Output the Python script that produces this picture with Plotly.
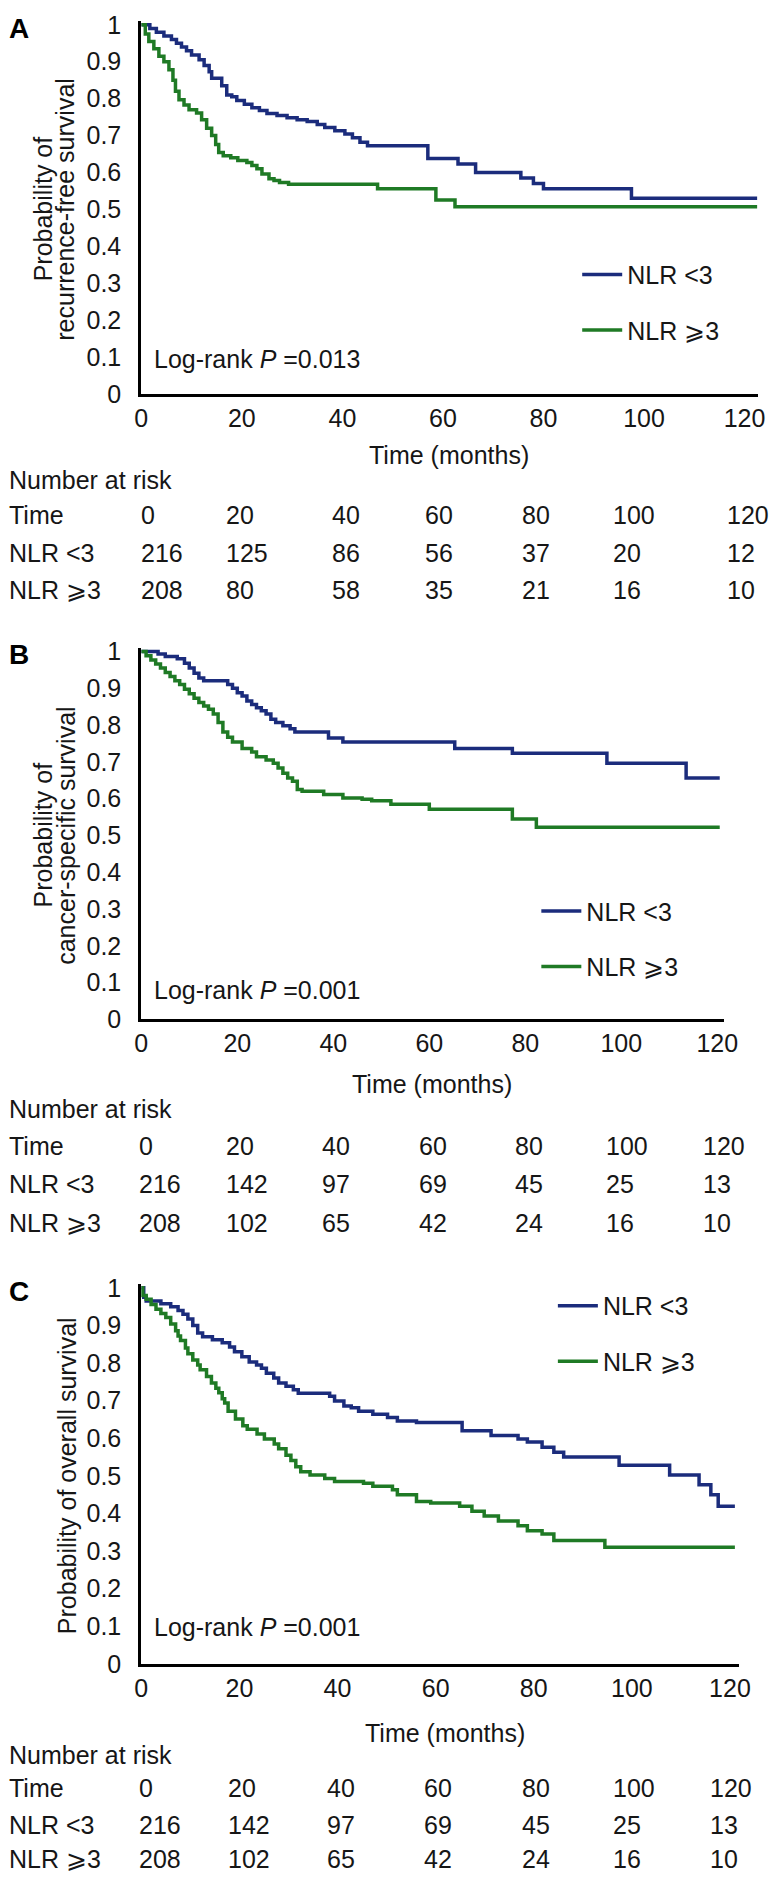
import plotly.graph_objects as go

W, H = 779, 1888
FONT = "Liberation Sans, Arial, sans-serif"
BLUE = "#1b2c7c"
GREEN = "#1f7a25"
TXT = "#161616"
FS = 25

# ---------------- data ----------------
time_ticks = [0, 20, 40, 60, 80, 100, 120]
y_ticks = [0, 0.1, 0.2, 0.3, 0.4, 0.5, 0.6, 0.7, 0.8, 0.9, 1]
y_tick_text = ["0", "0.1", "0.2", "0.3", "0.4", "0.5", "0.6", "0.7", "0.8", "0.9", "1"]
group_names = ["NLR <3", "NLR \u2a7e3"]

# Panel A: recurrence-free survival (step times, survival after step)
a_low_t = [0, 1.7, 3.0, 4.5, 6.0, 7.0, 8.0, 9.0, 10.0, 11.5, 12.5, 13.5, 14.0, 16.0, 17.0, 18.0,
           19.0, 20.5, 22.0, 23.5, 25.0, 27.0, 29.0, 31.0, 33.0, 35.0, 36.5, 38.5, 40.5, 42.0,
           43.5, 45.0, 57.0, 63.0, 66.5, 75.5, 78.0, 80.0, 97.5, 122.5]
a_low_s = [1.0, 0.99, 0.98, 0.97, 0.96, 0.95, 0.94, 0.93, 0.918, 0.905, 0.89, 0.873, 0.855, 0.835,
           0.81, 0.805, 0.795, 0.785, 0.775, 0.768, 0.76, 0.754, 0.748, 0.743, 0.738, 0.73, 0.722,
           0.713, 0.704, 0.694, 0.682, 0.672, 0.638, 0.623, 0.600, 0.585, 0.570, 0.556, 0.530, 0.530]
a_high_t = [0, 0.8, 1.5, 2.5, 3.5, 4.5, 5.5, 6.3, 6.8, 7.5, 8.5, 9.5, 11.0, 12.0, 13.0, 14.0, 14.8,
            15.4, 16.3, 17.8, 19.2, 21.0, 22.0, 23.0, 24.0, 25.4, 26.4, 27.5, 29.3, 47.0, 58.6,
            62.4, 122.5]
a_high_s = [1.0, 0.975, 0.955, 0.935, 0.915, 0.90, 0.878, 0.85, 0.82, 0.797, 0.783, 0.77, 0.761,
            0.743, 0.72, 0.70, 0.676, 0.654, 0.645, 0.64, 0.632, 0.627, 0.619, 0.61, 0.596, 0.583,
            0.578, 0.573, 0.568, 0.556, 0.525, 0.507, 0.507]

# Panel B: cancer-specific survival
b_low_t = [0, 3.5, 5.0, 7.5, 9.0, 10.0, 11.0, 12.0, 13.0, 18.0, 19.0, 20.0, 21.0, 22.0, 23.0, 24.0,
           25.0, 26.0, 27.0, 28.0, 29.5, 31.0, 32.0, 39.0, 42.0, 65.3, 77.3, 97.0, 113.5, 120.5]
b_low_s = [1.0, 0.993, 0.986, 0.98, 0.968, 0.955, 0.941, 0.928, 0.92, 0.91, 0.90, 0.888, 0.879,
           0.865, 0.856, 0.847, 0.839, 0.83, 0.816, 0.807, 0.798, 0.79, 0.781, 0.765, 0.754, 0.736,
           0.723, 0.696, 0.656, 0.656]
b_high_t = [0, 1.0, 2.0, 3.0, 4.0, 5.0, 6.0, 7.0, 8.0, 9.0, 10.0, 11.0, 12.0, 13.0, 14.0, 15.0,
            16.0, 17.0, 18.0, 19.0, 21.0, 23.0, 24.0, 26.0, 27.5, 28.5, 29.5, 30.5, 31.5, 32.5,
            33.5, 38.0, 42.0, 46.0, 48.0, 52.0, 60.0, 77.3, 82.3, 120.5]
b_high_s = [1.0, 0.988, 0.977, 0.966, 0.955, 0.943, 0.932, 0.92, 0.91, 0.897, 0.885, 0.873, 0.861,
            0.852, 0.843, 0.83, 0.807, 0.781, 0.767, 0.754, 0.736, 0.727, 0.714, 0.705, 0.696,
            0.683, 0.669, 0.656, 0.647, 0.625, 0.62, 0.611, 0.602, 0.598, 0.594, 0.585, 0.571,
            0.545, 0.522, 0.522]

# Panel C: overall survival
c_low_t = [0, 0.5, 1.0, 4.0, 6.0, 7.5, 8.5, 9.5, 10.5, 11.5, 12.5, 14.5, 16.5, 18.0, 19.0, 20.5,
           22.0, 23.5, 24.5, 25.5, 27.0, 28.0, 29.5, 31.0, 32.0, 38.4, 39.4, 41.3, 42.8, 44.3,
           47.2, 50.2, 52.2, 56.1, 65.4, 71.3, 76.8, 78.7, 81.7, 84.1, 86.1, 97.4, 107.7, 113.7,
           116.1, 117.6, 121.0]
c_low_s = [1.0, 0.975, 0.965, 0.958, 0.95, 0.94, 0.93, 0.917, 0.90, 0.88, 0.87, 0.862, 0.854,
           0.843, 0.83, 0.817, 0.803, 0.795, 0.786, 0.773, 0.76, 0.747, 0.738, 0.729, 0.72, 0.712,
           0.699, 0.686, 0.681, 0.672, 0.664, 0.655, 0.646, 0.642, 0.62, 0.607, 0.598, 0.59, 0.576,
           0.563, 0.55, 0.528, 0.502, 0.476, 0.45, 0.419, 0.419]
c_high_t = [0, 0.3, 1.0, 2.0, 3.0, 4.0, 5.0, 6.0, 7.0, 7.5, 8.0, 9.0, 9.5, 10.5, 11.5, 12.0, 13.3,
            14.3, 15.2, 15.8, 16.5, 17.0, 17.7, 19.2, 20.7, 21.6, 23.6, 25.1, 27.1, 28.0, 29.5,
            30.5, 31.5, 32.5, 34.4, 37.4, 39.4, 45.3, 47.2, 51.2, 52.2, 56.1, 59.0, 64.9, 67.4,
            69.9, 72.8, 76.8, 78.7, 81.7, 84.1, 94.5, 121.0]
c_high_s = [1.0, 0.98, 0.97, 0.956, 0.943, 0.932, 0.921, 0.904, 0.886, 0.872, 0.86, 0.84, 0.825,
            0.808, 0.795, 0.782, 0.764, 0.747, 0.733, 0.721, 0.705, 0.694, 0.672, 0.651, 0.633,
            0.624, 0.611, 0.598, 0.585, 0.572, 0.555, 0.541, 0.524, 0.511, 0.502, 0.493, 0.485,
            0.48, 0.472, 0.463, 0.45, 0.432, 0.428, 0.419, 0.406, 0.393, 0.38, 0.367, 0.354,
            0.345, 0.328, 0.31, 0.31]

risk_time = [0, 20, 40, 60, 80, 100, 120]
risk_a_low = [216, 125, 86, 56, 37, 20, 12]
risk_a_high = [208, 80, 58, 35, 21, 16, 10]
risk_b_low = [216, 142, 97, 69, 45, 25, 13]
risk_b_high = [208, 102, 65, 42, 24, 16, 10]
risk_c_low = [216, 142, 97, 69, 45, 25, 13]
risk_c_high = [208, 102, 65, 42, 24, 16, 10]

letters = ["A", "B", "C"]
ytitles = [["Probability of", "recurrence-free survival"],
           ["Probability of", "cancer-specific survival"],
           ["Probability of overall survival"]]
pvals = ["0.013", "0.001", "0.001"]

# ---------------- layout geometry (pixels) ----------------
def px(x):
    return x / W


def py(y):
    return 1 - y / H


panels = [
    dict(x0=138, x120=758, y0=388, y1=14, lowt=a_low_t, lows=a_low_s, hight=a_high_t, highs=a_high_s,
         risk=(risk_a_low, risk_a_high), cols=[136, 223, 332, 428, 527, 621, 738],
         tm=(454, 450), rows=[475, 511, 549, 587], leg=(586, 244), lr=353, ylab=[37, 60],
         letter_y=18),
    dict(x0=138, x120=730, y0=1022, y1=649, lowt=b_low_t, lows=b_low_s, hight=b_high_t, highs=b_high_s,
         risk=(risk_b_low, risk_b_high), cols=[134, 223, 322, 421, 520, 614, 713],
         tm=(437, 1087), rows=[1113, 1150, 1189, 1228], leg=(544, 889), lr=992, ylab=[37, 61],
         letter_y=652),
    dict(x0=138, x120=743, y0=1675, y1=1294, lowt=c_low_t, lows=c_low_s, hight=c_high_t, highs=c_high_s,
         risk=(risk_c_low, risk_c_high), cols=[134, 225, 327, 426, 527, 621, 720],
         tm=(450, 1745), rows=[1767, 1801, 1838, 1873], leg=(561, 1289), lr=1638, ylab=[62],
         letter_y=1298),
]
x_ends = [772, 737, 752]

fig = go.Figure()
layout = dict(
    width=W, height=H, margin=dict(l=0, r=0, t=0, b=0),
    paper_bgcolor="white", plot_bgcolor="white",
    font=dict(family=FONT, size=FS, color=TXT),
    annotations=[],
)

for i, p in enumerate(panels):
    k = "" if i == 0 else str(i + 1)
    ppu_x = (p["x120"] - p["x0"]) / 120.0
    xmax = (x_ends[i] - p["x0"]) / ppu_x
    ppu_y = (p["y0"] - p["y1"])
    ytop = 1.01
    top_px = p["y0"] - ytop * ppu_y
    legname = "legend" + k
    for j, (tt, ss, col) in enumerate([(p["lowt"], p["lows"], BLUE), (p["hight"], p["highs"], GREEN)]):
        fig.add_trace(go.Scatter(
            x=tt, y=ss, mode="lines", line=dict(color=col, width=3.5, shape="hv"),
            name=group_names[j], xaxis="x" + k, yaxis="y" + k, legend=legname,
            legendgroup="g%d%d" % (i, j), showlegend=True, hoverinfo="skip"))
    layout["xaxis" + k] = dict(
        domain=[px(p["x0"]), px(x_ends[i])], range=[0, xmax], anchor="y" + k,
        showline=True, linewidth=3, linecolor="black", showgrid=False, zeroline=False,
        ticks="", tickvals=time_ticks, ticktext=[str(v) for v in time_ticks],
        tickfont=dict(size=FS, color=TXT), ticklabelstandoff=0, fixedrange=True)
    layout["yaxis" + k] = dict(
        domain=[py(p["y0"]), py(top_px)], range=[0, ytop], anchor="x" + k,
        showline=True, linewidth=3, linecolor="black", showgrid=False, zeroline=False,
        ticks="", tickvals=y_ticks, ticktext=y_tick_text,
        tickfont=dict(size=FS, color=TXT), ticklabelstandoff=12, fixedrange=True)
    layout[legname] = dict(
        x=px(p["leg"][0]), y=py(p["leg"][1]), xanchor="left", yanchor="top",
        bgcolor="rgba(0,0,0,0)", borderwidth=0, font=dict(size=FS, color=TXT),
        traceorder="grouped", tracegroupgap=20, itemwidth=40)
    ann = layout["annotations"]
    ann.append(dict(text="<b>%s</b>" % letters[i], x=px(0), y=py(p["letter_y"]), xref="paper",
                    yref="paper", xanchor="left", yanchor="middle", showarrow=False,
                    font=dict(size=28, color="black")))
    for line_txt, lx in zip(ytitles[i], p["ylab"]):
        ann.append(dict(text=line_txt, x=px(lx), y=py((p["y0"] + p["y1"]) / 2), xref="paper",
                        yref="paper", xanchor="center", yanchor="middle", textangle=-90,
                        showarrow=False, font=dict(size=FS, color=TXT)))
    ann.append(dict(text="Log-rank <i>P</i> =%s" % pvals[i], x=px(149), y=py(p["lr"]),
                    xref="paper", yref="paper", xanchor="left", yanchor="middle",
                    showarrow=False, font=dict(size=FS, color=TXT)))
    ann.append(dict(text="Time (months)", x=px(p["tm"][0]), y=py(p["tm"][1]), xref="paper",
                    yref="paper", xanchor="center", yanchor="middle", showarrow=False,
                    font=dict(size=FS, color=TXT)))
    ann.append(dict(text="Number at risk", x=px(0), y=py(p["rows"][0]), xref="paper",
                    yref="paper", xanchor="left", yanchor="middle", showarrow=False,
                    font=dict(size=FS, color=TXT)))
    row_labels = ["Time"] + group_names
    row_vals = [risk_time, p["risk"][0], p["risk"][1]]
    for r in range(3):
        yy = py(p["rows"][r + 1])
        ann.append(dict(text=row_labels[r], x=px(0), y=yy, xref="paper", yref="paper",
                        xanchor="left", yanchor="middle", showarrow=False,
                        font=dict(size=FS, color=TXT)))
        for c, v in enumerate(row_vals[r]):
            ann.append(dict(text=str(v), x=px(p["cols"][c]), y=yy, xref="paper", yref="paper",
                            xanchor="left", yanchor="middle", showarrow=False,
                            font=dict(size=FS, color=TXT)))

fig.update_layout(**layout)
fig.write_html("out.html", config={"displayModeBar": False, "staticPlot": True},
               post_script="document.body.style.margin='0';")
